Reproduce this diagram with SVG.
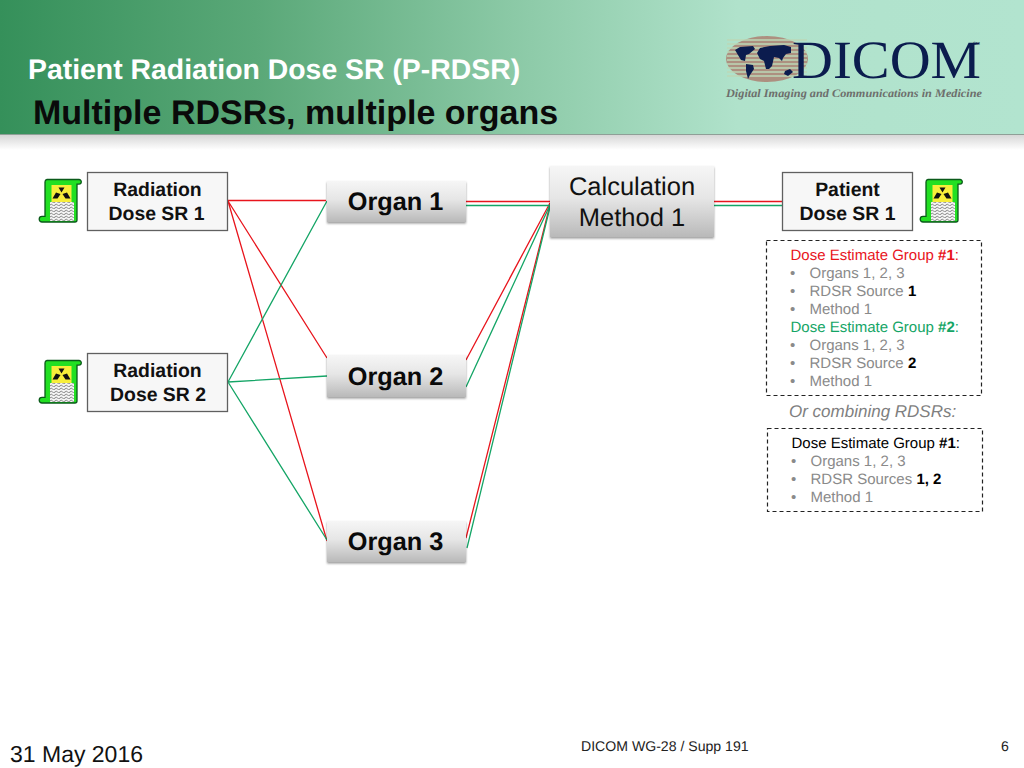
<svg xmlns="http://www.w3.org/2000/svg" xmlns:xlink="http://www.w3.org/1999/xlink" width="1024" height="768" viewBox="0 0 1024 768">
<style>
text{font-family:"Liberation Sans",Arial,sans-serif;text-rendering:geometricPrecision}
text.serif{font-family:"Liberation Serif","Times New Roman",serif}
.box{fill:#f7f7f7;stroke:#606060;stroke-width:1.3}
.org{fill:url(#org)}
.red{stroke:#e8141c;stroke-width:1.3;fill:none}
.grn{stroke:#14a566;stroke-width:1.3;fill:none}
.dash{fill:#fff;stroke:#222;stroke-width:1.2;stroke-dasharray:4 3}
.t18{font-size:19.400px;font-weight:bold;fill:#111;text-anchor:middle}
.t24{font-size:25.300px;font-weight:bold;fill:#0a0a0a;text-anchor:middle}
.s{font-size:15px;fill:#8a8a8a}
.k{fill:#000;font-weight:bold}
</style>
<defs>
<linearGradient id="hd" x1="0" x2="1" y1="0" y2="0"><stop offset="0" stop-color="#35905a"/><stop offset=".25" stop-color="#5aa878"/><stop offset=".5" stop-color="#8bc9a6"/><stop offset=".72" stop-color="#b0e2cb"/><stop offset="1" stop-color="#b2e4cf"/></linearGradient>
<linearGradient id="sh" x1="0" x2="0" y1="0" y2="1"><stop offset="0" stop-color="#d4d4d4"/><stop offset="1" stop-color="#fff"/></linearGradient>
<linearGradient id="org" x1="0" x2="0" y1="0" y2="1"><stop offset="0" stop-color="#f6f6f6"/><stop offset=".45" stop-color="#e6e6e6"/><stop offset="1" stop-color="#b9b9b9"/></linearGradient>
<filter id="ds" x="-10%" y="-10%" width="120%" height="130%"><feDropShadow dx="0" dy="1.500" stdDeviation="1.200" flood-color="#000" flood-opacity=".4"/></filter>
<pattern id="wave" width="5" height="3" patternUnits="userSpaceOnUse"><rect width="5" height="3" fill="#f4f4f4"/><path d="M0 2q1.250-1.600 2.500 0t2.500 0" fill="none" stroke="#555" stroke-width=".7"/></pattern>
<g id="scroll">
<path d="M7 0.500H39a2.300 2.300 0 0 1 0 4.600H37V41a2 2 0 0 1-2 2H2a2.800 2.800 0 0 1 0-5.600H5V3a2.500 2.500 0 0 1 2-2.500z" fill="#22e022" stroke="#0a5a1a" stroke-width="1.300"/>
<rect x="11.500" y="6" width="20" height="17" fill="#f7ee3a"/>
<rect x="10" y="23" width="24" height="19" fill="url(#wave)"/>
<path d="M21 13.500l-3-5h6zM20 15l-3 4.500h-5l3.500-6zM22 15l3 4.500h5l-3.500-6z" fill="#111" transform="translate(0.500,0)"/>
</g>
</defs>
<rect id="shadow" x="0" y="134" width="1024" height="16" fill="url(#sh)"/>
<rect id="header" x="0" y="0" width="1024" height="134" fill="url(#hd)"/>
<line x1="0" y1="134.500" x2="1024" y2="134.500" stroke="#8f9f97" stroke-width="1"/>
<text x="28" y="79" font-size="28.400" font-weight="bold" fill="#fff">Patient Radiation Dose SR (P-RDSR)</text>
<text x="33" y="124" font-size="34" font-weight="bold" fill="#0a0a0a">Multiple RDSRs, multiple organs</text>
<g id="logo">
<ellipse cx="767" cy="59" rx="41" ry="23" fill="#ad9080"/>
<path d="M727 40h80M727 44h80M727 48h80M727 52h80M727 56h80M727 60h80M727 64h80M727 68h80M727 72h80M727 76h80" stroke="#bcd8b6" stroke-width="1.500"/>
<path d="M735 50l5-3 13-1 2 3-6 5-3 1-1 6-4-1-3-5zM746 64l7 1 1 4-4 6-2 4-2-8zM757 53l3-5 10-2 14-1 7 2 0 6-5 1-3 4-1 3-3-3-5-1-2 9-3 3-3 0-2-8-4-2z" fill="#0b1c4e"/>
<path d="M785 71l5-2 3 3-5 4-4-2z" fill="#0b1c4e"/>
<text class="serif" x="792" y="78" font-size="54" fill="#0b1c4e" textLength="189" lengthAdjust="spacingAndGlyphs">DICOM</text>
<text x="973" y="45" font-size="4.500" fill="#0b1c4e">SM</text>
<text class="serif" x="726" y="97" font-size="11.500" font-weight="bold" font-style="italic" fill="#6d6f6c" textLength="256" lengthAdjust="spacingAndGlyphs">Digital Imaging and Communications in Medicine</text>
</g>
<g id="connectors">
<path class="red" d="M228 200.500H326M228 201L327 358M228 201L327 541M466 201.500H550M466 360L550 203M466 538L550 205M714 201.500H782"/>
<path class="grn" d="M228 382L327 201M228 382L327 376M228 382L327 540M466 205.500H550M466 387L550 205M467 548L550 207M714 205.500H782"/>
</g>
<g id="n-rad1"><use xlink:href="#scroll" x="40" y="179"/><rect class="box" x="87.500" y="172.500" width="140" height="58"/><text class="t18" x="157.500" y="196">Radiation</text><text class="t18" x="156.500" y="220">Dose SR 1</text></g>
<g id="n-rad2"><use xlink:href="#scroll" x="40" y="360"/><rect class="box" x="87.500" y="353.500" width="140" height="58"/><text class="t18" x="157.500" y="377">Radiation</text><text class="t18" x="158" y="401">Dose SR 2</text></g>
<g id="n-org1"><rect class="org" filter="url(#ds)" x="327" y="181" width="139" height="41"/><text class="t24" x="395.500" y="210">Organ 1</text></g>
<g id="n-org2"><rect class="org" filter="url(#ds)" x="327" y="355" width="139" height="42"/><text class="t24" x="395.500" y="385">Organ 2</text></g>
<g id="n-org3"><rect class="org" filter="url(#ds)" x="327" y="521" width="139" height="41"/><text class="t24" x="395.500" y="550">Organ 3</text></g>
<g id="n-calc"><rect class="org" filter="url(#ds)" x="550" y="166" width="164" height="71"/><text x="632" y="195" font-size="25.500" fill="#111" text-anchor="middle">Calculation</text><text x="632" y="226" font-size="25.500" fill="#111" text-anchor="middle">Method 1</text></g>
<g id="n-patient"><rect class="box" x="782.500" y="172.500" width="130" height="58"/><text class="t18" x="847.500" y="196">Patient</text><text class="t18" x="847.500" y="220">Dose SR 1</text><use xlink:href="#scroll" x="921" y="179"/></g>
<g id="n-group1"><rect class="dash" x="766.500" y="240.500" width="215" height="155"/>
<text x="790.500" y="260" font-size="15" fill="#e8141c">Dose Estimate Group <tspan font-weight="bold">#1</tspan>:</text>
<text class="s" x="790" y="278">•</text><text class="s" x="809.500" y="278">Organs 1, 2, 3</text>
<text class="s" x="790" y="296">•</text><text class="s" x="809.500" y="296">RDSR Source <tspan class="k">1</tspan></text>
<text class="s" x="790" y="314">•</text><text class="s" x="809.500" y="314">Method 1</text>
<text x="790.500" y="332" font-size="15" fill="#14a566">Dose Estimate Group <tspan font-weight="bold">#2</tspan>:</text>
<text class="s" x="790" y="350">•</text><text class="s" x="809.500" y="350">Organs 1, 2, 3</text>
<text class="s" x="790" y="368">•</text><text class="s" x="809.500" y="368">RDSR Source <tspan class="k">2</tspan></text>
<text class="s" x="790" y="386">•</text><text class="s" x="809.500" y="386">Method 1</text></g>
<text x="789" y="417" font-size="17" font-style="italic" fill="#7f7f7f">Or combining RDSRs:</text>
<g id="n-group2"><rect class="dash" x="767.500" y="428.500" width="215" height="83"/>
<text x="791.500" y="448" font-size="15" fill="#000">Dose Estimate Group <tspan font-weight="bold">#1</tspan>:</text>
<text class="s" x="791" y="466">•</text><text class="s" x="810.500" y="466">Organs 1, 2, 3</text>
<text class="s" x="791" y="484">•</text><text class="s" x="810.500" y="484">RDSR Sources <tspan class="k">1, 2</tspan></text>
<text class="s" x="791" y="502">•</text><text class="s" x="810.500" y="502">Method 1</text></g>
<text x="10" y="762" font-size="23" fill="#111">31 May 2016</text>
<text x="581" y="751" font-size="14.100" fill="#222">DICOM WG-28 / Supp 191</text>
<text x="1001" y="751" font-size="14.100" fill="#222">6</text>
</svg>
